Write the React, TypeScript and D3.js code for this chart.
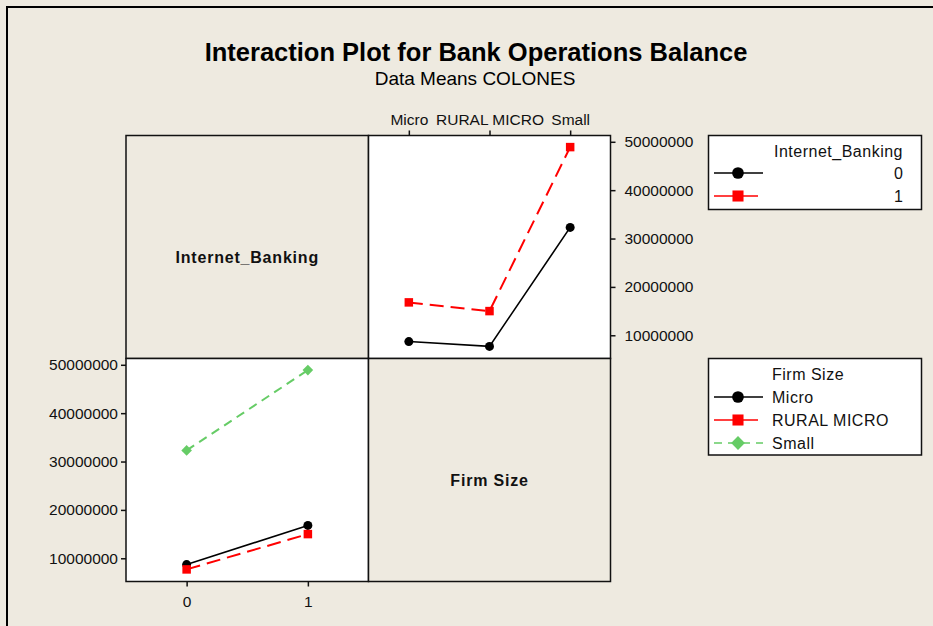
import React, { useRef, useEffect } from "react";
import * as d3 from "d3";

const firmSizes = ["Micro", "RURAL MICRO", "Small"];
const bankingLevels = ["0", "1"];
// means of the balance, by firm size, one list per Internet_Banking level
const meansBanking0 = [8700000, 7700000, 32300000];
const meansBanking1 = [16800000, 15000000, 48900000];
const yTicks = [10000000, 20000000, 30000000, 40000000, 50000000];

const bankingStyles = [
    { color: "#000000", dash: null, symbol: "circle" },
    { color: "#ff0000", dash: "14,7", symbol: "square" },
];
const firmStyles = [
    { color: "#000000", dash: null, symbol: "circle" },
    { color: "#ff0000", dash: "14,7", symbol: "square" },
    { color: "#66cc66", dash: "9,6", symbol: "diamond" },
];

const BG = "#eeeae0";
const FONT = "'Liberation Sans', Arial, sans-serif";

const addMarker = (g, type, x, y, color, scale = 1) => {
    if (type === "circle") {
        g.append("circle").attr("cx", x).attr("cy", y).attr("r", 4.5 * scale).attr("fill", color);
    } else if (type === "square") {
        const s = 8.5 * scale;
        g.append("rect").attr("x", x - s / 2).attr("y", y - s / 2).attr("width", s).attr("height", s).attr("fill", color);
    } else {
        g.append("path")
            .attr("d", d3.symbol(d3.symbolSquare, 56 * scale * scale)())
            .attr("transform", `translate(${x},${y}) rotate(45)`)
            .attr("fill", color);
    }
};

export default function App() {
    const svgRef = useRef(null);

    useEffect(() => {
        const svg = d3.select(svgRef.current);
        svg.selectAll("*").remove();

        const x0 = 126, x1 = 368.5, x2 = 610.5;
        const y0 = 135.5, y1 = 358.5, y2 = 581.5;

        svg.append("rect").attr("width", 933).attr("height", 626).attr("fill", BG);
        // outer frame (left and top only)
        svg.append("path").attr("d", "M7,626 L7,7 L933,7").attr("fill", "none").attr("stroke", "#000").attr("stroke-width", 2);

        svg.append("text").text("Interaction Plot for Bank Operations Balance")
            .attr("x", 476).attr("y", 61).attr("text-anchor", "middle")
            .attr("font-family", FONT).attr("font-weight", "bold").attr("font-size", 25.5).attr("fill", "#000");
        svg.append("text").text("Data Means COLONES")
            .attr("x", 475).attr("y", 85).attr("text-anchor", "middle")
            .attr("font-family", FONT).attr("font-size", 19).attr("fill", "#000");

        // panels
        const panels = [
            { x: x0, y: y0, w: x1 - x0, h: y1 - y0, fill: BG, label: "Internet_Banking" },
            { x: x1, y: y0, w: x2 - x1, h: y1 - y0, fill: "#fff" },
            { x: x0, y: y1, w: x1 - x0, h: y2 - y1, fill: "#fff" },
            { x: x1, y: y1, w: x2 - x1, h: y2 - y1, fill: BG, label: "Firm Size" },
        ];
        panels.forEach(p => {
            svg.append("rect").attr("x", p.x).attr("y", p.y).attr("width", p.w).attr("height", p.h)
                .attr("fill", p.fill).attr("stroke", "#111").attr("stroke-width", 1.5);
            if (p.label) {
                svg.append("text").text(p.label)
                    .attr("x", p.x + p.w / 2).attr("y", p.y + p.h / 2 + 16).attr("text-anchor", "middle")
                    .attr("font-family", FONT).attr("font-weight", "bold").attr("font-size", 16)
                    .attr("letter-spacing", 0.8).attr("fill", "#111");
            }
        });

        const yTop = d3.scaleLinear().domain([5200000, 51300000]).range([y1, y0]);
        const yBottom = d3.scaleLinear().domain([5200000, 51300000]).range([y2, y1]);
        const xFirm = d3.scalePoint().domain(firmSizes).range([x1, x2]).padding(0.5);
        const xBank = d3.scalePoint().domain(bankingLevels).range([x0, x1]).padding(0.5);

        const styleAxis = (g) => {
            g.select(".domain").remove();
            g.selectAll("line").attr("stroke", "#111").attr("stroke-width", 1.5);
            g.selectAll("text").attr("font-family", FONT).attr("font-size", 15.5).attr("fill", "#111");
        };

        svg.append("g").attr("transform", `translate(${x2},0)`)
            .call(d3.axisRight(yTop).tickValues(yTicks).tickFormat(d3.format("d")).tickSize(5).tickPadding(9))
            .call(styleAxis);
        svg.append("g").attr("transform", `translate(0,${y0})`)
            .call(d3.axisTop(xFirm).tickSize(5).tickPadding(6))
            .call(styleAxis);
        svg.append("g").attr("transform", `translate(${x0},0)`)
            .call(d3.axisLeft(yBottom).tickValues(yTicks).tickFormat(d3.format("d")).tickSize(5).tickPadding(3))
            .call(styleAxis);
        svg.append("g").attr("transform", `translate(0,${y2})`)
            .call(d3.axisBottom(xBank).tickSize(5).tickPadding(9))
            .call(styleAxis);

        const line = d3.line();

        // top right: x = firm size, one line per banking level
        const bankSeries = [meansBanking0, meansBanking1];
        const topG = svg.append("g");
        bankSeries.forEach((vals, i) => {
            const st = bankingStyles[i];
            const pts = vals.map((v, j) => [xFirm(firmSizes[j]), yTop(v)]);
            topG.append("path").attr("d", line(pts)).attr("fill", "none")
                .attr("stroke", st.color).attr("stroke-width", st.dash ? 2 : 1.6)
                .attr("stroke-dasharray", st.dash);
            pts.forEach(p => addMarker(topG, st.symbol, p[0], p[1], st.color));
        });

        // bottom left: x = banking level, one line per firm size
        const botG = svg.append("g");
        firmSizes.forEach((f, j) => {
            const st = firmStyles[j];
            const pts = bankSeries.map((vals, i) => [xBank(bankingLevels[i]), yBottom(vals[j])]);
            botG.append("path").attr("d", line(pts)).attr("fill", "none")
                .attr("stroke", st.color).attr("stroke-width", st.dash ? 2 : 1.6)
                .attr("stroke-dasharray", st.dash);
            pts.forEach(p => addMarker(botG, st.symbol, p[0], p[1], st.color));
        });

        // legends
        const lx = 708.5, lw = 213;
        const leg1 = svg.append("g");
        leg1.append("rect").attr("x", lx).attr("y", 135.5).attr("width", lw).attr("height", 74)
            .attr("fill", "#fff").attr("stroke", "#111").attr("stroke-width", 1.5);
        leg1.append("text").text("Internet_Banking").attr("x", 903).attr("y", 157).attr("text-anchor", "end")
            .attr("font-family", FONT).attr("font-size", 16).attr("letter-spacing", 0.5).attr("fill", "#111");
        bankingLevels.forEach((b, i) => {
            const st = bankingStyles[i];
            const cy = 173 + i * 23;
            leg1.append("line").attr("x1", 714).attr("x2", i === 0 ? 763 : 758).attr("y1", cy).attr("y2", cy)
                .attr("stroke", st.color).attr("stroke-width", 1.6);
            addMarker(leg1, st.symbol, 738, cy, st.color, 1.3);
            leg1.append("text").text(b).attr("x", 903).attr("y", cy + 6).attr("text-anchor", "end")
                .attr("font-family", FONT).attr("font-size", 16).attr("fill", "#111");
        });

        const leg2 = svg.append("g");
        leg2.append("rect").attr("x", lx).attr("y", 358.5).attr("width", lw).attr("height", 96.5)
            .attr("fill", "#fff").attr("stroke", "#111").attr("stroke-width", 1.5);
        leg2.append("text").text("Firm Size").attr("x", 772).attr("y", 380)
            .attr("font-family", FONT).attr("font-size", 16).attr("letter-spacing", 0.5).attr("fill", "#111");
        firmSizes.forEach((f, j) => {
            const st = firmStyles[j];
            const cy = 397 + j * 23;
            leg2.append("line").attr("x1", 714).attr("x2", j === 1 ? 758 : 763).attr("y1", cy).attr("y2", cy)
                .attr("stroke", st.color).attr("stroke-width", 1.6)
                .attr("stroke-dasharray", j === 2 ? "8,6" : null);
            addMarker(leg2, st.symbol, 738, cy, st.color, 1.3);
            leg2.append("text").text(f).attr("x", 772).attr("y", cy + 6)
                .attr("font-family", FONT).attr("font-size", 16).attr("letter-spacing", 0.5).attr("fill", "#111");
        });
    }, []);

    return (
        <svg ref={svgRef} width={933} height={626}
            style={{ position: "absolute", left: 0, top: 0, display: "block" }} />
    );
}
